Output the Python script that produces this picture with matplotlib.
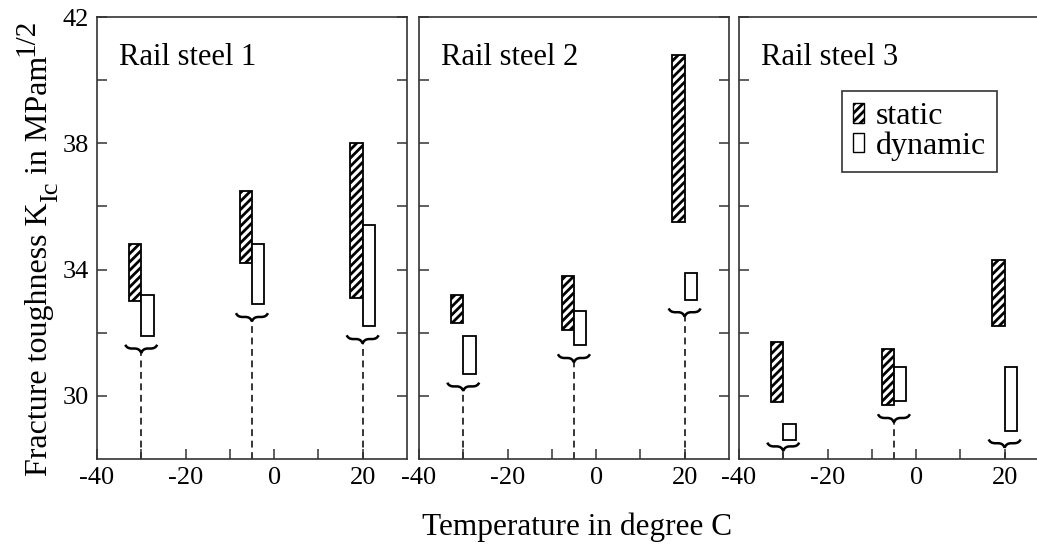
import matplotlib
matplotlib.use("Agg")
import matplotlib.pyplot as plt
from matplotlib.path import Path
from matplotlib.patches import PathPatch, Patch
from matplotlib.ticker import FixedLocator

plt.rcParams['font.family'] = ['Liberation Serif', 'DejaVu Serif']
plt.rcParams['axes.unicode_minus'] = False
plt.rcParams['hatch.linewidth'] = 2.0
plt.rcParams['hatch.color'] = 'black'

# Test temperatures (degree C) and fracture toughness ranges (MPa m^1/2)
temperatures = [-30, -5, 20]
steels = ["Rail steel 1", "Rail steel 2", "Rail steel 3"]
static_low = [[33.0, 34.2, 33.1], [32.3, 32.1, 35.5], [29.8, 29.7, 32.2]]
static_high = [[34.8, 36.5, 38.0], [33.2, 33.8, 40.8], [31.7, 31.5, 34.3]]
dynamic_low = [[31.9, 32.9, 32.2], [30.7, 31.6, 33.05], [28.6, 29.85, 28.9]]
dynamic_high = [[33.2, 34.8, 35.4], [31.9, 32.7, 33.9], [29.1, 30.9, 30.9]]
x_major = [-40, -20, 0, 20]
x_minor = [-30, -10, 10]
y_major = [30, 34, 38, 42]
y_minor = [32, 36, 40]

XLIM = (-40, 30)
YLIM = (28, 42)
BAR_W = 2.8
FRAME = '#333333'
W_PX, H_PX = 1037, 544


def draw_brace(ax, xc, y, half):
    """Horizontal curly brace opening upward, tip pointing down at xc."""
    hu, hd = 0.12, 0.14
    xl, xr = xc - half, xc + half
    verts = [
        (xl, y + hu),
        (xl + 0.1 * half, y), (xl + 0.4 * half, y),
        (xc - 0.4 * half, y),
        (xc - 0.1 * half, y), (xc, y - hd),
        (xc + 0.1 * half, y), (xc + 0.4 * half, y),
        (xr - 0.4 * half, y),
        (xr - 0.1 * half, y), (xr, y + hu),
    ]
    codes = [Path.MOVETO, Path.CURVE3, Path.CURVE3, Path.LINETO,
             Path.CURVE3, Path.CURVE3, Path.CURVE3, Path.CURVE3,
             Path.LINETO, Path.CURVE3, Path.CURVE3]
    ax.add_patch(PathPatch(Path(verts, codes), facecolor='none',
                           edgecolor='black', lw=1.8, zorder=3))
    return y - hd


fig = plt.figure(figsize=(W_PX / 100, H_PX / 100), dpi=100)
bottom, width, height = 0.1562, 0.2989, 0.8125
lefts = [0.0935, 0.4040, 0.7126]

axes = []
for i, name in enumerate(steels):
    ax = fig.add_axes([lefts[i], bottom, width, height])
    axes.append(ax)
    ax.set_xlim(*XLIM)
    ax.set_ylim(*YLIM)

    # static (hatched) to the left of each temperature, dynamic to the right
    xs_static = [t - BAR_W for t in temperatures]
    ax.bar(xs_static,
           [h - l for h, l in zip(static_high[i], static_low[i])],
           bottom=static_low[i], width=BAR_W, align='edge',
           facecolor='white', edgecolor='black', hatch='////', lw=1.3, zorder=2)
    ax.bar(temperatures,
           [h - l for h, l in zip(dynamic_high[i], dynamic_low[i])],
           bottom=dynamic_low[i], width=BAR_W, align='edge',
           facecolor='white', edgecolor='black', lw=1.3, zorder=2)

    for j, t in enumerate(temperatures):
        lowest = min(static_low[i][j], dynamic_low[i][j])
        y_brace = max(lowest - 0.4, 28.4)
        tip = draw_brace(ax, t, y_brace, 3.6)
        ax.plot([t, t], [YLIM[0], tip], color='black', lw=1.1,
                linestyle=(0, (4.5, 3.0)), zorder=1)

    ax.text(0.072, 0.891, name, transform=ax.transAxes, fontsize=22,
            ha='left', va='baseline')

    ax.xaxis.set_major_locator(FixedLocator(x_major))
    ax.xaxis.set_minor_locator(FixedLocator(x_minor))
    ax.yaxis.set_major_locator(FixedLocator(y_major))
    ax.yaxis.set_minor_locator(FixedLocator(y_minor))
    ax.tick_params(which='both', direction='in', length=7.5, width=1.1,
                   color=FRAME, top=False, right=True, labelsize=19)
    ax.tick_params(axis='x', pad=6)
    ax.tick_params(axis='y', pad=6)
    if i > 0:
        ax.tick_params(axis='y', labelleft=False)
    for sp in ax.spines.values():
        sp.set_color(FRAME)
        sp.set_linewidth(1.2)

handles = [Patch(facecolor='white', edgecolor='black', hatch='////', lw=1.0,
                 label='static'),
           Patch(facecolor='white', edgecolor='black', lw=1.0,
                 label='dynamic')]
leg = axes[2].legend(handles=handles, loc='upper left',
                     bbox_to_anchor=(0.331, 0.833), borderaxespad=0,
                     fontsize=23, frameon=True, fancybox=False,
                     handlelength=0.35, handleheight=0.58,
                     handletextpad=0.35, borderpad=0.36, labelspacing=0.0)
leg.get_frame().set_edgecolor('black')
leg.get_frame().set_linewidth(1.2)

# y-axis title assembled from pieces so that the subscript and the
# exponent keep a near full text size
renderer = fig.canvas.get_renderer()
ylabel_parts = [("Fracture toughness K", 23, 0),
                ("Ic", 19, 10),
                (" in MPam", 23, 0),
                ("1/2", 21, -14)]
base_x, run_y = 47, 68
for s, fs, dx in ylabel_parts:
    t = fig.text((base_x + dx) / W_PX, run_y / H_PX, s, rotation=90,
                 rotation_mode='anchor', ha='left', va='baseline', fontsize=fs)
    run_y = t.get_window_extent(renderer).y1

fig.text(576.7 / W_PX, 1 - 535 / H_PX, "Temperature in degree C",
         ha='center', va='baseline', fontsize=22.5)

fig.savefig("out.png", dpi=100)
